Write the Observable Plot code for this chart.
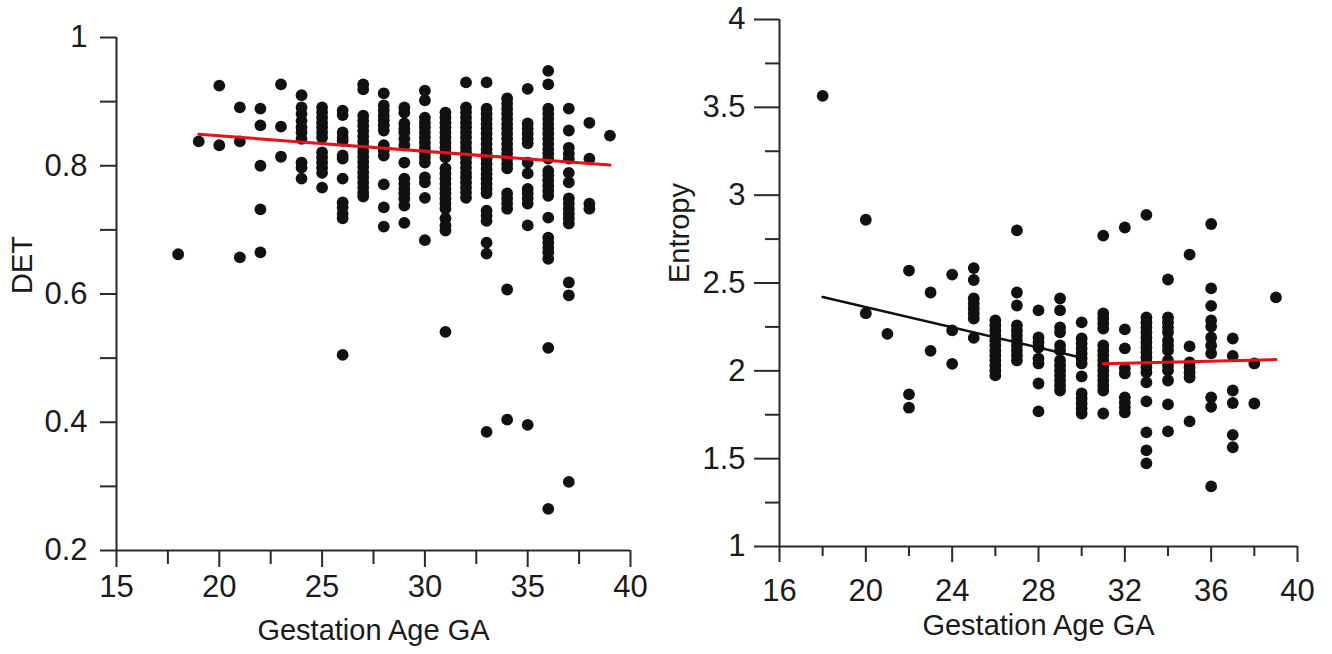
<!DOCTYPE html>
<html>
<head>
<meta charset="utf-8">
<script src="https://cdn.jsdelivr.net/npm/d3@7"></script>
<script src="https://cdn.jsdelivr.net/npm/@observablehq/plot@0.6"></script>
<style>
  html, body { margin: 0; padding: 0; background: #fff; }
  #wrap { display: flex; width: 1332px; height: 654px; overflow: hidden; }
  #wrap svg { display: block; overflow: visible; }
</style>
</head>
<body>
<div id="wrap"><div id="left"></div><div id="right"></div></div>
<script>
// ---------- Left panel: DET vs Gestation Age ----------
const detGA = [18, 19, 20, 21, 22, 23, 24, 25, 26, 27, 28, 29, 30, 31, 32, 33, 34, 35, 36, 37, 38, 39];
const detValues = [
  [0.662],
  [0.838],
  [0.925, 0.832],
  [0.891, 0.838, 0.657],
  [0.889, 0.863, 0.800, 0.732, 0.665],
  [0.927, 0.861, 0.814],
  [0.910, 0.891, 0.881, 0.870, 0.860, 0.852, 0.842, 0.805, 0.797, 0.780],
  [0.891, 0.883, 0.875, 0.867, 0.860, 0.852, 0.844, 0.821, 0.813, 0.805, 0.797, 0.789, 0.766],
  [0.886, 0.879, 0.852, 0.844, 0.839, 0.816, 0.811, 0.780, 0.743, 0.735, 0.725, 0.718, 0.505],
  [0.927, 0.919, 0.878, 0.870, 0.862, 0.854, 0.846, 0.838, 0.830, 0.822, 0.814, 0.806, 0.798, 0.790, 0.782, 0.774, 0.766, 0.758, 0.752],
  [0.913, 0.894, 0.886, 0.878, 0.871, 0.863, 0.855, 0.832, 0.824, 0.816, 0.771, 0.735, 0.705],
  [0.891, 0.883, 0.866, 0.858, 0.852, 0.842, 0.832, 0.805, 0.780, 0.772, 0.764, 0.757, 0.749, 0.738, 0.711],
  [0.917, 0.902, 0.875, 0.867, 0.860, 0.852, 0.844, 0.836, 0.828, 0.821, 0.813, 0.805, 0.782, 0.774, 0.750, 0.684],
  [0.883, 0.875, 0.867, 0.860, 0.852, 0.844, 0.836, 0.828, 0.821, 0.813, 0.796, 0.788, 0.780, 0.772, 0.764, 0.757, 0.749, 0.741, 0.733, 0.718, 0.707, 0.699, 0.541],
  [0.930, 0.891, 0.883, 0.875, 0.867, 0.860, 0.852, 0.844, 0.836, 0.828, 0.821, 0.813, 0.805, 0.797, 0.789, 0.782, 0.774, 0.766, 0.758, 0.750],
  [0.930, 0.889, 0.881, 0.873, 0.865, 0.858, 0.850, 0.842, 0.834, 0.826, 0.819, 0.811, 0.803, 0.795, 0.787, 0.780, 0.772, 0.764, 0.757, 0.730, 0.722, 0.714, 0.680, 0.663, 0.385],
  [0.905, 0.897, 0.889, 0.881, 0.873, 0.865, 0.858, 0.850, 0.842, 0.834, 0.826, 0.819, 0.811, 0.803, 0.796, 0.757, 0.749, 0.741, 0.733, 0.607, 0.404],
  [0.920, 0.866, 0.858, 0.850, 0.842, 0.835, 0.805, 0.788, 0.764, 0.757, 0.749, 0.741, 0.707, 0.396],
  [0.948, 0.927, 0.889, 0.881, 0.873, 0.865, 0.858, 0.850, 0.842, 0.834, 0.826, 0.819, 0.811, 0.792, 0.785, 0.777, 0.769, 0.761, 0.753, 0.719, 0.688, 0.680, 0.672, 0.665, 0.655, 0.516, 0.265],
  [0.889, 0.855, 0.828, 0.819, 0.811, 0.789, 0.774, 0.749, 0.741, 0.733, 0.725, 0.718, 0.710, 0.618, 0.598, 0.307],
  [0.867, 0.811, 0.741, 0.733],
  [0.847]
];
const detFitGA = [19, 39];
const detFitValue = [0.849, 0.801];
const detYMajor = [0.2, 0.4, 0.6, 0.8, 1];
const detYMinor = [0.3, 0.5, 0.7, 0.9];
const detXMajor = [15, 20, 25, 30, 35, 40];
const detXMinor = [17.5, 22.5, 27.5, 32.5, 37.5];

// ---------- Right panel: Entropy vs Gestation Age ----------
const entGA = [18, 20, 21, 22, 23, 24, 25, 26, 27, 28, 29, 30, 31, 32, 33, 34, 35, 36, 37, 38, 39];
const entValues = [
  [3.565],
  [2.86, 2.328],
  [2.21],
  [2.571, 1.866, 1.79],
  [2.446, 2.114],
  [2.548, 2.23, 2.04],
  [2.585, 2.517, 2.412, 2.384, 2.355, 2.327, 2.298, 2.188],
  [2.287, 2.258, 2.23, 2.201, 2.173, 2.145, 2.116, 2.088, 2.059, 2.031, 2.002, 1.974],
  [2.80, 2.446, 2.372, 2.258, 2.23, 2.201, 2.173, 2.145, 2.116, 2.088, 2.059],
  [2.344, 2.19, 2.162, 2.133, 2.07, 2.042, 1.928, 1.769],
  [2.412, 2.344, 2.247, 2.219, 2.145, 2.116, 2.059, 2.031, 2.002, 1.974, 1.945, 1.917, 1.888],
  [2.276, 2.184, 2.156, 2.127, 2.099, 2.07, 2.042, 1.968, 1.871, 1.843, 1.814, 1.786, 1.757],
  [2.77, 2.327, 2.298, 2.27, 2.241, 2.145, 2.116, 2.088, 2.059, 2.031, 2.002, 1.974, 1.945, 1.917, 1.888, 1.757],
  [2.816, 2.236, 2.128, 2.014, 1.985, 1.849, 1.82, 1.792, 1.763],
  [2.888, 2.304, 2.276, 2.247, 2.219, 2.19, 2.162, 2.133, 2.105, 2.076, 2.048, 2.019, 1.991, 1.934, 1.826, 1.65, 1.547, 1.473],
  [2.52, 2.304, 2.276, 2.247, 2.219, 2.173, 2.145, 2.116, 2.059, 2.031, 2.002, 1.945, 1.809, 1.655],
  [2.662, 2.139, 2.048, 2.019, 1.991, 1.962, 1.712],
  [2.836, 2.469, 2.37, 2.287, 2.252, 2.19, 2.145, 2.099, 1.849, 1.795, 1.342],
  [2.184, 2.085, 1.888, 1.817, 1.635, 1.565],
  [2.042, 1.814],
  [2.418]
];
const entFitEarlyGA = [18, 30];
const entFitEarlyValue = [2.42, 2.075];
const entFitLateGA = [31, 39];
const entFitLateValue = [2.04, 2.064];
const entYMajor = [1, 1.5, 2, 2.5, 3, 3.5, 4];
const entYMinor = [1.25, 1.75, 2.25, 2.75, 3.25, 3.75];
const entXMajor = [16, 20, 24, 28, 32, 36, 40];
const entXMinor = [18, 22, 26, 30, 34, 38];

// ---------- helpers ----------
function flatten(gas, vals) {
  const rows = [];
  gas.forEach((g, i) => vals[i].forEach(v => rows.push({ga: g, v})));
  return rows;
}
function pairs(xs, ys) { return xs.map((x, i) => ({ga: x, v: ys[i]})); }

const FONT = "'Liberation Sans', Arial, Helvetica, sans-serif";
const FS = 29;      // axis titles
const TFS = 31;     // tick labels
const INK = "#1a1a1a";
const AXIS = "#2a2a2a";
const fmt = d => String(d);

// ---------- left ----------
const detRows = flatten(detGA, detValues);
const left = Plot.plot({
  width: 660, height: 654,
  marginLeft: 116, marginRight: 30, marginTop: 37, marginBottom: 104,
  x: {domain: [15, 40]},
  y: {domain: [0.2, 1]},
  style: {fontFamily: FONT, fontSize: FS + "px", color: INK, background: "white"},
  marks: [
    Plot.axisY({ticks: detYMajor, tickSize: 16, tickPadding: 13, tickFormat: fmt, label: null, stroke: AXIS, strokeWidth: 2, fontSize: TFS}),
    Plot.axisY({ticks: detYMinor, tickSize: 16, tickFormat: () => "", label: null, stroke: AXIS, strokeWidth: 2}),
    Plot.axisX({ticks: detXMajor, tickSize: 17, tickPadding: 7, tickFormat: fmt, label: null, stroke: AXIS, strokeWidth: 2, fontSize: TFS}),
    Plot.axisX({ticks: detXMinor, tickSize: 14, tickFormat: () => "", label: null, stroke: AXIS, strokeWidth: 2}),
    Plot.ruleX([15], {stroke: AXIS, strokeWidth: 2}),
    Plot.ruleY([0.2], {stroke: AXIS, strokeWidth: 2}),
    Plot.dot(detRows, {x: "ga", y: "v", r: 5.9, fill: "#111", stroke: null}),
    Plot.line(pairs(detFitGA, detFitValue), {x: "ga", y: "v", stroke: "#e3121b", strokeWidth: 3}),
    Plot.text(["Gestation Age GA"], {frameAnchor: "bottom", lineAnchor: "middle", dy: 80, fontSize: FS, fill: INK}),
    Plot.text(["DET"], {frameAnchor: "left", lineAnchor: "middle", rotate: -90, dx: -94, fontSize: FS, fill: INK})
  ]
});
document.getElementById("left").append(left);

// ---------- right ----------
const entRows = flatten(entGA, entValues);
const right = Plot.plot({
  width: 672, height: 654,
  marginLeft: 119, marginRight: 35, marginTop: 19, marginBottom: 108,
  x: {domain: [16, 40]},
  y: {domain: [1, 4]},
  style: {fontFamily: FONT, fontSize: FS + "px", color: INK, background: "white"},
  marks: [
    Plot.axisY({ticks: entYMajor, tickSize: 25, tickPadding: 9, tickFormat: fmt, label: null, stroke: AXIS, strokeWidth: 2, fontSize: TFS}),
    Plot.axisY({ticks: entYMinor, tickSize: 14, tickFormat: () => "", label: null, stroke: AXIS, strokeWidth: 2}),
    Plot.axisX({ticks: entXMajor, tickSize: 16, tickPadding: 16, tickFormat: fmt, label: null, stroke: AXIS, strokeWidth: 2, fontSize: TFS}),
    Plot.axisX({ticks: entXMinor, tickSize: 10, tickFormat: () => "", label: null, stroke: AXIS, strokeWidth: 2}),
    Plot.ruleX([16], {stroke: AXIS, strokeWidth: 2}),
    Plot.ruleY([1], {stroke: AXIS, strokeWidth: 2}),
    Plot.dot(entRows, {x: "ga", y: "v", r: 5.9, fill: "#111", stroke: null}),
    Plot.line(pairs(entFitEarlyGA, entFitEarlyValue), {x: "ga", y: "v", stroke: "#111", strokeWidth: 2.5}),
    Plot.line(pairs(entFitLateGA, entFitLateValue), {x: "ga", y: "v", stroke: "#e3121b", strokeWidth: 3}),
    Plot.text(["Gestation Age GA"], {frameAnchor: "bottom", lineAnchor: "middle", dy: 79, fontSize: FS, fill: INK}),
    Plot.text(["Entropy"], {frameAnchor: "left", lineAnchor: "middle", rotate: -90, dx: -100, fontSize: FS, fill: INK})
  ]
});
document.getElementById("right").append(right);
</script>
</body>
</html>
